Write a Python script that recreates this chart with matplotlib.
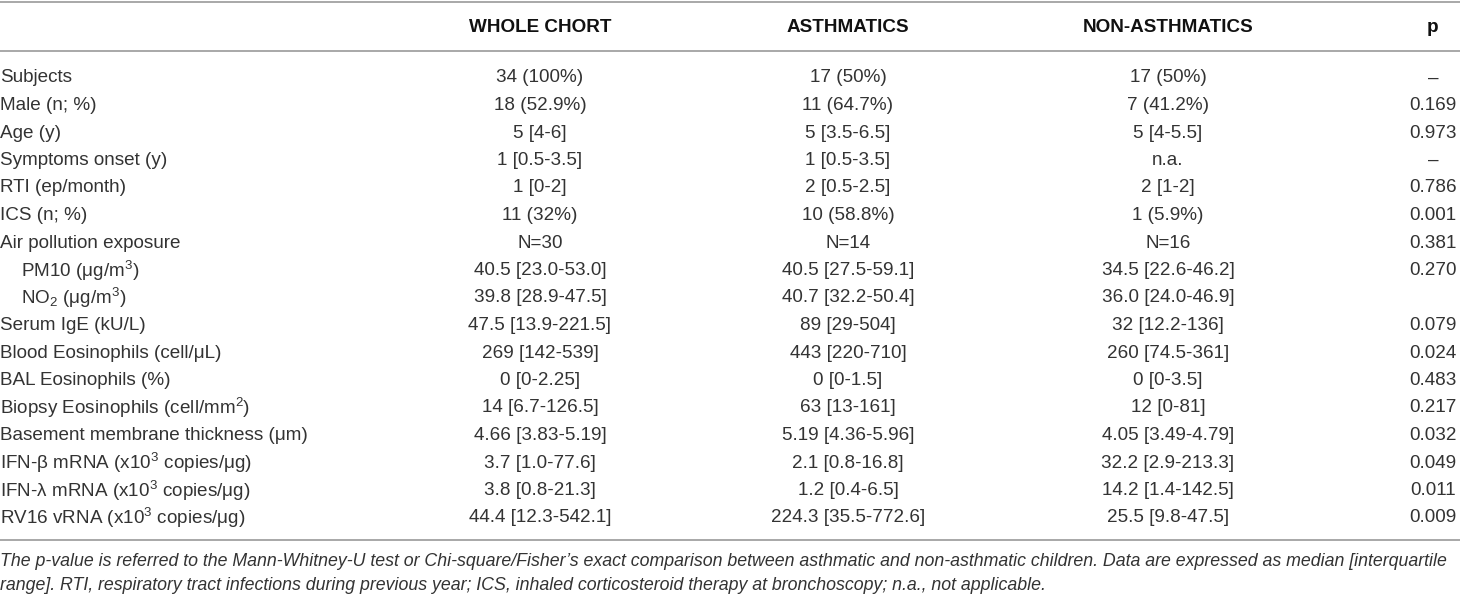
import matplotlib
matplotlib.use("Agg")
import matplotlib.pyplot as plt

plt.rcParams['font.family'] = ['Liberation Sans', 'DejaVu Sans']
plt.rcParams['mathtext.fontset'] = 'custom'
plt.rcParams['mathtext.rm'] = 'Liberation Sans'
plt.rcParams['mathtext.it'] = 'Liberation Sans:italic'

# table content
headers = ["WHOLE CHORT", "ASTHMATICS", "NON-ASTHMATICS", "p"]
row_labels = [
    "Subjects", "Male (n; %)", "Age (y)", "Symptoms onset (y)", "RTI (ep/month)",
    "ICS (n; %)", "Air pollution exposure",
    "PM10 (\u03bcg/m$\\mathregular{^3}$)", "NO$\\mathregular{_2}$ (\u03bcg/m$\\mathregular{^3}$)",
    "Serum IgE (kU/L)", "Blood Eosinophils (cell/\u03bcL)", "BAL Eosinophils (%)",
    "Biopsy Eosinophils (cell/mm$\\mathregular{^2}$)", "Basement membrane thickness (\u03bcm)",
    "IFN-\u03b2 mRNA (x10$\\mathregular{^3}$ copies/\u03bcg)",
    "IFN-\u03bb mRNA (x10$\\mathregular{^3}$ copies/\u03bcg)",
    "RV16 vRNA (x10$\\mathregular{^3}$ copies/\u03bcg)",
]
indented = [False] * 7 + [True, True] + [False] * 8
whole = ["34 (100%)", "18 (52.9%)", "5 [4-6]", "1 [0.5-3.5]", "1 [0-2]", "11 (32%)", "N=30",
         "40.5 [23.0-53.0]", "39.8 [28.9-47.5]", "47.5 [13.9-221.5]", "269 [142-539]",
         "0 [0-2.25]", "14 [6.7-126.5]", "4.66 [3.83-5.19]", "3.7 [1.0-77.6]",
         "3.8 [0.8-21.3]", "44.4 [12.3-542.1]"]
asthmatics = ["17 (50%)", "11 (64.7%)", "5 [3.5-6.5]", "1 [0.5-3.5]", "2 [0.5-2.5]",
              "10 (58.8%)", "N=14", "40.5 [27.5-59.1]", "40.7 [32.2-50.4]", "89 [29-504]",
              "443 [220-710]", "0 [0-1.5]", "63 [13-161]", "5.19 [4.36-5.96]",
              "2.1 [0.8-16.8]", "1.2 [0.4-6.5]", "224.3 [35.5-772.6]"]
non_asthmatics = ["17 (50%)", "7 (41.2%)", "5 [4-5.5]", "n.a.", "2 [1-2]", "1 (5.9%)",
                  "N=16", "34.5 [22.6-46.2]", "36.0 [24.0-46.9]", "32 [12.2-136]",
                  "260 [74.5-361]", "0 [0-3.5]", "12 [0-81]", "4.05 [3.49-4.79]",
                  "32.2 [2.9-213.3]", "14.2 [1.4-142.5]", "25.5 [9.8-47.5]"]
p_values = ["\u2013", "0.169", "0.973", "\u2013", "0.786", "0.001", "0.381", "0.270", "",
            "0.079", "0.024", "0.483", "0.217", "0.032", "0.049", "0.011", "0.009"]
footnote = [
    "The p-value is referred to the Mann-Whitney-U test or Chi-square/Fisher\u2019s exact "
    "comparison between asthmatic and non-asthmatic children. Data are expressed as median [interquartile",
    "range]. RTI, respiratory tract infections during previous year; ICS, inhaled "
    "corticosteroid therapy at bronchoscopy; n.a., not applicable.",
]

W, H = 1460, 596
fig = plt.figure(figsize=(W / 100, H / 100), dpi=100)
ax = fig.add_axes([0, 0, 1, 1])
ax.set_xlim(0, W)
ax.set_ylim(H, 0)
ax.axis('off')

col_x = [540, 848, 1168, 1433]
body_color = '#333333'
line_color = '#9a9a9a'
fs = 13.6

# rules
for y in (1.5, 50.5, 539.5):
    ax.axhline(y, color=line_color, lw=1.2)

# header
for x, h in zip(col_x, headers):
    ax.text(x, 27, h, ha='center', va='center', fontsize=fs, fontweight='bold', color='#111111')

# body rows
y0, dy = 78, 27.5
columns = [whole, asthmatics, non_asthmatics, p_values]
for i, label in enumerate(row_labels):
    y = y0 + i * dy
    ax.text(21 if indented[i] else 0, y, label, ha='left', va='center', fontsize=fs, color=body_color)
    for x, col in zip(col_x, columns):
        ax.text(x, y, col[i], ha='center', va='center', fontsize=fs, color=body_color)

# footnote
for j, line in enumerate(footnote):
    ax.text(0, 562 + j * 23, line, ha='left', va='center', fontsize=12.8,
            style='italic', color=body_color)

fig.savefig("out.png", dpi=100)
